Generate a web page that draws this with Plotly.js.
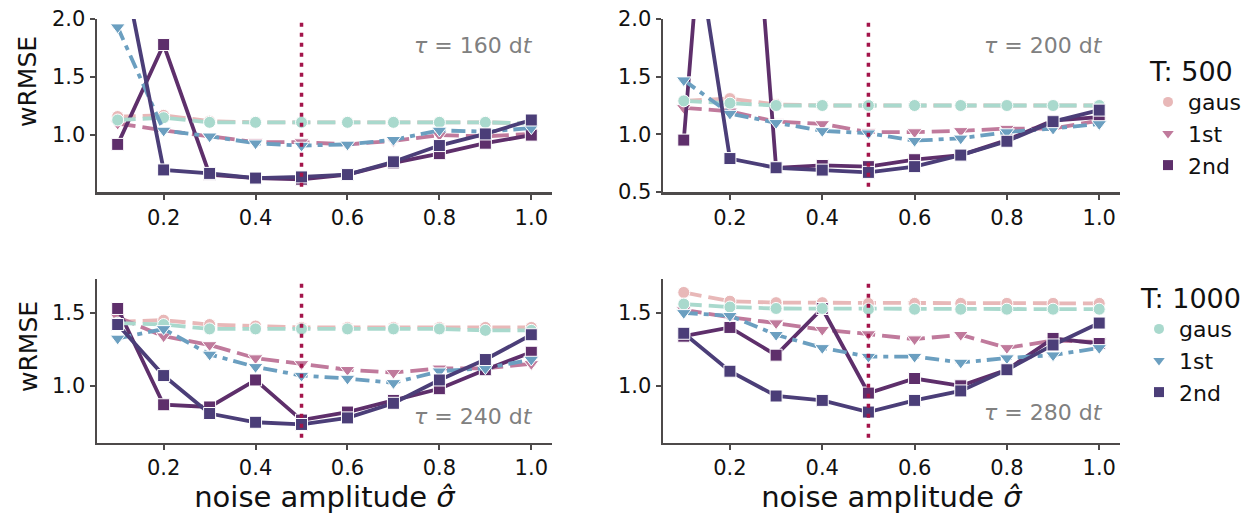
<!DOCTYPE html>
<html>
<head>
<meta charset="utf-8">
<script src="https://cdn.plot.ly/plotly-3.0.1.min.js"></script>
<style>html,body{margin:0;padding:0;background:#fff}</style>
</head>
<body>
<div id="chart" style="width:1254px;height:523px"></div>
<script>
const noise = [0.1,0.2,0.3,0.4,0.5,0.6,0.7,0.8,0.9,1.0];
const xTicks = [0.2,0.4,0.6,0.8,1.0];
const tauLabels = ["160","200","240","280"];
const methods = ["gaus","1st","2nd"];

// tau = 160 dt
const t160_T500_gaus = [1.16,1.17,1.12,1.11,1.11,1.11,1.11,1.11,1.11,1.10];
const t160_T500_1st  = [1.10,1.04,0.99,0.94,0.94,0.92,0.95,1.00,0.99,1.01];
const t160_T500_2nd  = [0.92,1.78,0.66,0.63,0.62,0.66,0.76,0.84,0.93,1.00];
const t160_T1000_gaus = [1.13,1.15,1.11,1.11,1.11,1.11,1.11,1.11,1.11,1.10];
const t160_T1000_1st  = [1.93,1.04,0.99,0.93,0.91,0.92,0.96,1.04,1.03,1.06];
const t160_T1000_2nd  = [2.70,0.70,0.67,0.63,0.64,0.66,0.77,0.91,1.01,1.13];
// tau = 200 dt
const t200_T500_gaus = [1.29,1.31,1.26,1.25,1.25,1.25,1.25,1.25,1.25,1.25];
const t200_T500_1st  = [1.23,1.20,1.11,1.09,1.02,1.02,1.03,1.05,1.05,1.12];
const t200_T500_2nd  = [0.95,5.90,0.71,0.73,0.72,0.78,0.82,0.95,1.12,1.15];
const t200_T1000_gaus = [1.29,1.27,1.25,1.25,1.25,1.25,1.25,1.25,1.25,1.25];
const t200_T1000_1st  = [1.47,1.18,1.10,1.03,1.01,0.945,0.965,1.02,1.05,1.09];
const t200_T1000_2nd  = [3.36,0.79,0.71,0.69,0.67,0.72,0.82,0.94,1.11,1.21];
// tau = 240 dt
const t240_T500_gaus = [1.44,1.45,1.42,1.41,1.40,1.40,1.40,1.40,1.40,1.40];
const t240_T500_1st  = [1.47,1.34,1.28,1.19,1.15,1.11,1.09,1.12,1.12,1.15];
const t240_T500_2nd  = [1.53,0.87,0.855,1.04,0.765,0.82,0.90,0.98,1.11,1.23];
const t240_T1000_gaus = [1.43,1.42,1.39,1.39,1.39,1.39,1.39,1.39,1.38,1.38];
const t240_T1000_1st  = [1.325,1.39,1.215,1.13,1.07,1.05,1.02,1.10,1.12,1.18];
const t240_T1000_2nd  = [1.42,1.07,0.81,0.75,0.735,0.78,0.88,1.04,1.18,1.35];
// tau = 280 dt
const t280_T500_gaus = [1.64,1.58,1.57,1.57,1.565,1.565,1.565,1.565,1.565,1.565];
const t280_T500_1st  = [1.52,1.47,1.43,1.385,1.355,1.32,1.35,1.26,1.31,1.30];
const t280_T500_2nd  = [1.34,1.40,1.21,1.53,0.95,1.05,1.00,1.11,1.325,1.29];
const t280_T1000_gaus = [1.56,1.54,1.53,1.53,1.525,1.525,1.525,1.525,1.525,1.525];
const t280_T1000_1st  = [1.50,1.48,1.35,1.26,1.20,1.20,1.16,1.19,1.21,1.26];
const t280_T1000_2nd  = [1.36,1.10,0.93,0.90,0.82,0.90,0.965,1.11,1.28,1.43];

const panels = [
  {T500:[t160_T500_gaus,t160_T500_1st,t160_T500_2nd], T1000:[t160_T1000_gaus,t160_T1000_1st,t160_T1000_2nd]},
  {T500:[t200_T500_gaus,t200_T500_1st,t200_T500_2nd], T1000:[t200_T1000_gaus,t200_T1000_1st,t200_T1000_2nd]},
  {T500:[t240_T500_gaus,t240_T500_1st,t240_T500_2nd], T1000:[t240_T1000_gaus,t240_T1000_1st,t240_T1000_2nd]},
  {T500:[t280_T500_gaus,t280_T500_1st,t280_T500_2nd], T1000:[t280_T1000_gaus,t280_T1000_1st,t280_T1000_2nd]}
];

const col500 = ["#e8b8b8","#c07a9c","#5e2f6b"];
const col1000 = ["#a9d9cd","#6b9fc0","#4b3e78"];
const symbols = ["circle","triangle-down","square"];
const dash500 = ["18px,7px","18px,7px","solid"];
const dash1000 = ["18px,7px","14px,6px,5px,6px","solid"];
const msize = [12,13,12];

const W = 1254, H = 523;
const px = (v) => v / W, py = (v) => 1 - v / H;
const xDom = [[px(97), px(552)], [px(663), px(1120)]];
const yDom = [[py(192), py(19)], [py(442.7), py(279.3)]];
const yRanges = [[0.51, 2.0], [0.5, 2.0], [0.61, 1.73], [0.61, 1.73]];
const yTickVals = [[1.0,1.5,2.0],[0.5,1.0,1.5,2.0],[1.0,1.5],[1.0,1.5]];

const traces = [];
panels.forEach((p, i) => {
  const ax = i === 0 ? "" : String(i + 1);
  [["T500", col500, dash500], ["T1000", col1000, dash1000]].forEach(([key, cols, dashes]) => {
    p[key].forEach((vals, m) => {
      traces.push({
        x: noise, y: vals, xaxis: "x" + ax, yaxis: "y" + ax,
        mode: "lines+markers", showlegend: false, cliponaxis: true,
        line: {color: cols[m], width: 3.8, dash: dashes[m]},
        marker: {symbol: symbols[m], size: msize[m], color: cols[m], line: {color: "#ffffff", width: 1}},
        hoverinfo: "skip"
      });
    });
  });
});
// legend entries
methods.forEach((name, m) => {
  traces.push({x:[null], y:[null], mode:"markers", name:name, legend:"legend", showlegend:true,
    marker:{symbol:symbols[m], size:10, color:col500[m]}});
});
methods.forEach((name, m) => {
  traces.push({x:[null], y:[null], mode:"markers", name:name, legend:"legend2", showlegend:true,
    marker:{symbol:symbols[m], size:10, color:col1000[m]}});
});

const axisCommon = {
  showline: true, linecolor: "#4d4a4a", linewidth: 2.5, ticks: "outside", ticklen: 5,
  tickwidth: 2, tickcolor: "#4d4a4a", showgrid: false, zeroline: false,
  tickfont: {family: "DejaVu Sans", size: 21, color: "#111"}
};
const layout = {
  width: W, height: H, margin: {l:0, r:0, t:0, b:0},
  paper_bgcolor: "#fff", plot_bgcolor: "#fff",
  font: {family: "DejaVu Sans"},
  shapes: [], annotations: [],
  legend: {x: px(1148), y: py(46), xanchor: "left", yanchor: "top",
    title: {text: "T: 500", font: {size: 27, color: "#111"}},
    font: {size: 22, color: "#111"}, itemwidth: 30, bgcolor: "rgba(0,0,0,0)"},
  legend2: {x: px(1139), y: py(273), xanchor: "left", yanchor: "top",
    title: {text: "T: 1000", font: {size: 27, color: "#111"}},
    font: {size: 22, color: "#111"}, itemwidth: 30, bgcolor: "rgba(0,0,0,0)"}
};
const annoPos = [[535, 45, 0], [1105, 45, 1], [535, 416, 2], [1105, 412, 3]];
const yTitlePos = [82, 347];
for (let i = 0; i < 4; i++) {
  const ax = i === 0 ? "" : String(i + 1);
  const col = i % 2, row = Math.floor(i / 2);
  layout["xaxis" + ax] = Object.assign({}, axisCommon, {
    domain: xDom[col], range: [0.055, 1.045], anchor: "y" + ax,
    tickvals: xTicks, ticktext: xTicks.map(v => v.toFixed(1)),
    title: row === 1 ? {text: "noise amplitude <i>σ̂</i>", font: {size: 29, color: "#111"}, standoff: 3} : {text: ""}
  });
  layout["yaxis" + ax] = Object.assign({}, axisCommon, {
    domain: yDom[row], range: yRanges[i], anchor: "x" + ax,
    tickvals: yTickVals[i], ticktext: yTickVals[i].map(v => v.toFixed(1)),
    title: {text: ""}
  });
  if (col === 0) {
    layout.annotations.push({xref: "paper", yref: "paper", x: px(28), y: py(yTitlePos[row]),
      xanchor: "center", yanchor: "middle", textangle: -90, showarrow: false,
      text: "wRMSE", font: {size: 25, color: "#111"}});
  }
  layout.shapes.push({type: "line", xref: "x" + ax, yref: "y" + ax + " domain",
    x0: 0.5, x1: 0.5, y0: 0.03, y1: 1.0, line: {color: "#a3144a", width: 3.5, dash: "4px,6px"}});
  const a = annoPos[i];
  layout.annotations.push({xref: "paper", yref: "paper", x: px(a[0]), y: py(a[1]),
    xanchor: "right", yanchor: "middle", showarrow: false,
    text: "<i>τ</i> = " + tauLabels[i] + " d<i>t</i>", font: {size: 22, color: "#808080"}});
}
Plotly.newPlot("chart", traces, layout, {displayModeBar: false, staticPlot: true});
</script>
</body>
</html>
